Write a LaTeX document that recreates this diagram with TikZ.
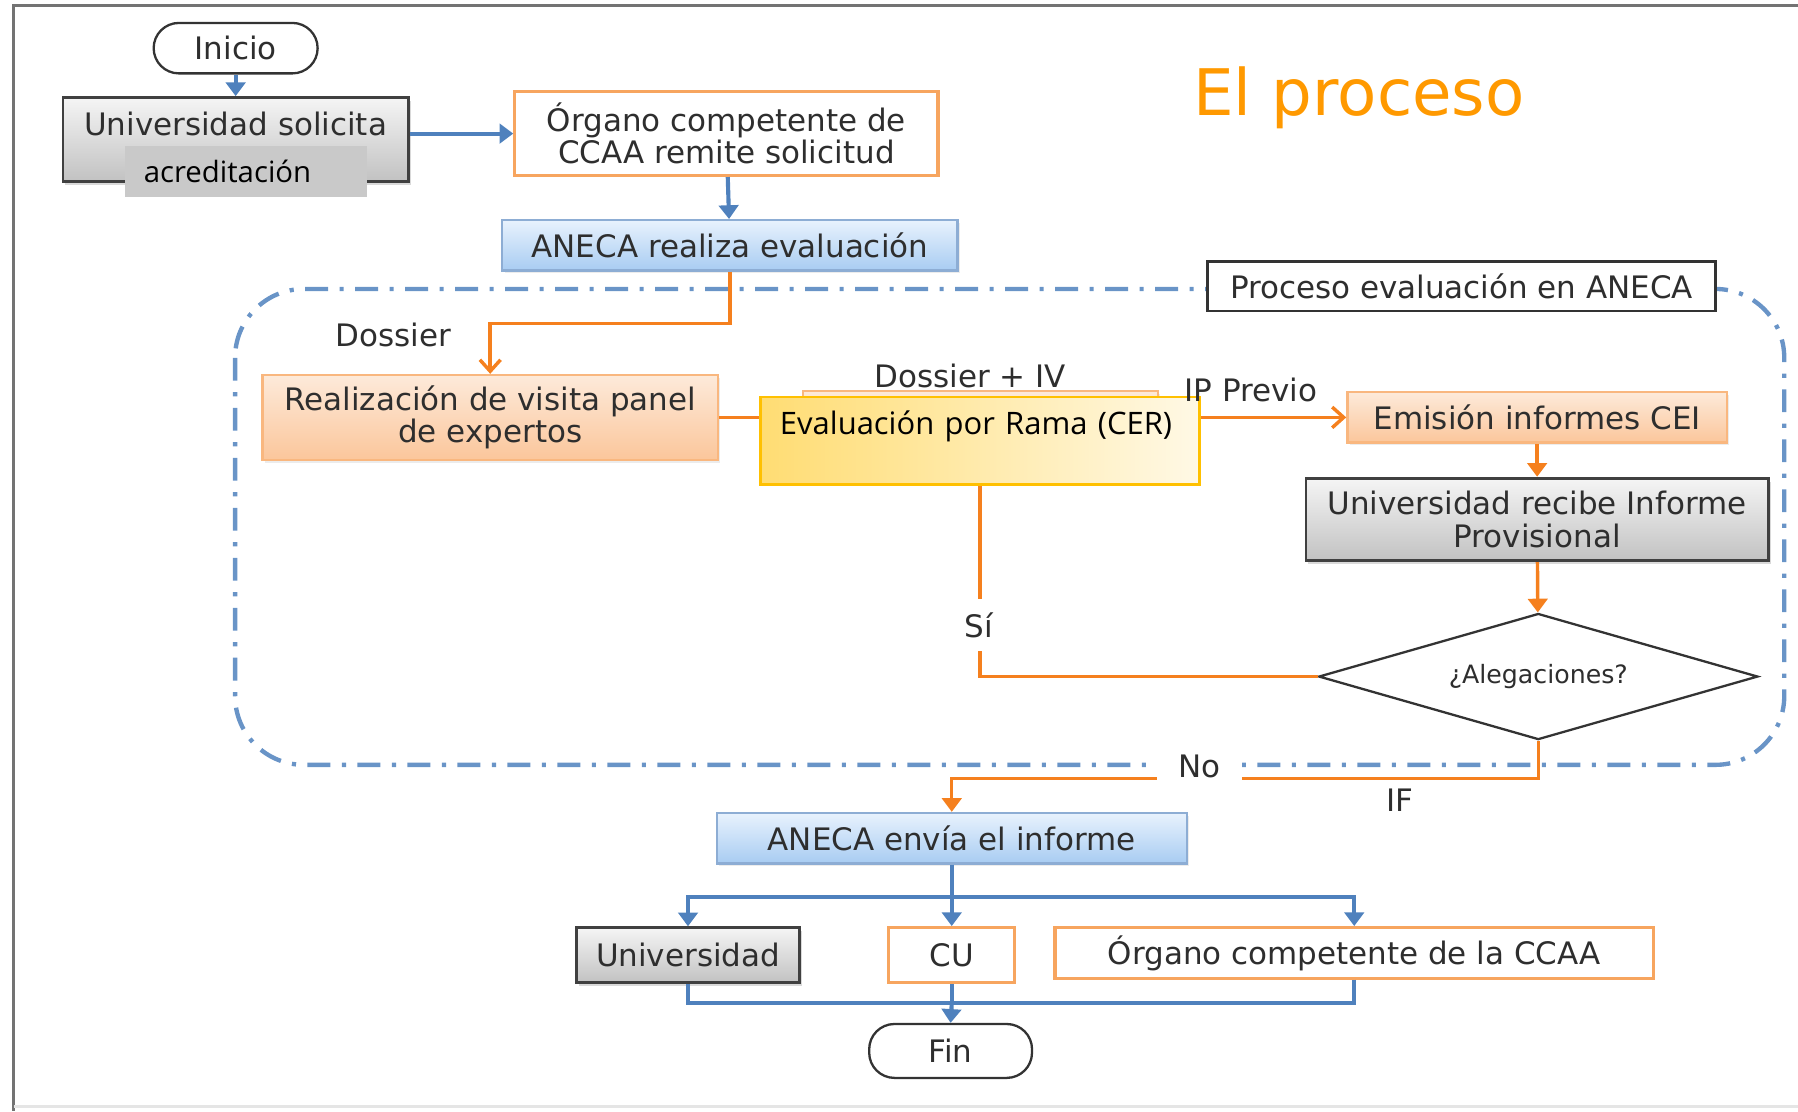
\documentclass[tikz,border=0pt]{standalone}
\usepackage{fontspec}
\setmainfont{DejaVu Sans}
\newfontfamily\osans{Open Sans}
\usetikzlibrary{arrows.meta,shapes.geometric,shadows}
\definecolor{anecaBlue}{RGB}{79,129,189}
\definecolor{lineOrange}{RGB}{245,128,30}
\definecolor{boxOrange}{RGB}{247,165,95}
\definecolor{titleOrange}{RGB}{255,153,0}
\definecolor{cerYellow}{RGB}{255,192,0}
\definecolor{peachTop}{RGB}{253,234,218}
\definecolor{peachBot}{RGB}{251,198,155}
\definecolor{blueTop}{RGB}{232,242,253}
\definecolor{blueBot}{RGB}{168,204,242}
\newcommand{\txt}{\fontsize{13.5}{14}\selectfont}

\begin{document}
\begin{tikzpicture}[x=0.5pt,y=-0.5pt,
        every node/.style={text=black!82, font=\txt},
        box/.style={draw, rectangle, inner sep=0pt, align=center},
        greybox/.style={box, draw=black!75, line width=1.2pt, top color=black!4, bottom color=black!24,
            drop shadow={opacity=0.3, shadow xshift=1pt, shadow yshift=-1.5pt}},
        orangebox/.style={box, draw=boxOrange, line width=1.4pt, fill=white},
        peachbox/.style={box, draw=boxOrange!80, line width=1pt, top color=peachTop, bottom color=peachBot,
            drop shadow={opacity=0.15, shadow xshift=1pt, shadow yshift=-1.2pt}},
        bluebox/.style={box, draw=anecaBlue!65, line width=1pt, top color=blueTop, bottom color=blueBot,
            drop shadow={opacity=0.15, shadow xshift=1pt, shadow yshift=-1.2pt}},
        pill/.style={box, draw=black!80, line width=1pt, fill=white, rounded corners=11pt},
        blueline/.style={draw=anecaBlue, line width=1.8pt},
        orline/.style={draw=lineOrange, line width=1.5pt},
        arr/.style={-{Triangle[length=6pt,width=8.5pt]}},
        varr/.style={-{Straight Barb[length=5pt,width=9pt]}},
    ]
        \useasboundingbox (0,0) rectangle (1568,969);

        % frame
        \draw[black!55, line width=1.2pt] (1568,5) -- (12,5) -- (12,969);
        \draw[black!10, line width=1pt] (12,965) -- (1568,965);

        \node[text=titleOrange, font=\fontsize{28}{30}\selectfont] (titulo) at (1185,85) {El proceso};

        % region ANECA
        \draw[anecaBlue!85, line width=1.9pt, dash pattern=on 10pt off 5pt on 1.8pt off 5pt,
            rounded corners=30pt] (205,252) rectangle (1556,667);
        \node[box, draw=black!80, line width=1pt, fill=white, minimum width=221.5pt, minimum height=21.5pt]
            (aneca proc) at (1274.5,249.5) {Proceso evaluación en ANECA};

        % nodes
        \node[pill, minimum width=71.5pt, minimum height=22pt] (inicio) at (205.5,42) {Inicio};
        \node[greybox, minimum width=150.5pt, text height=16.5pt, text depth=20pt]
            (univ) at (205.5,121.5) {Universidad solicita};
        \node[fill=black!21, anchor=west, inner xsep=8pt, inner ysep=0pt, text width=89.5pt,
            minimum height=22.5pt, align=left, text=black, font=\osans\fontsize{12.8}{14}\selectfont]
            (acred) at (109,149.5) {acreditación};
        \node[orangebox, minimum width=184.5pt, minimum height=36.5pt]
            (organo) at (633.5,116.5) {Órgano competente de\\CCAA remite solicitud};
        \node[bluebox, minimum width=198.5pt, minimum height=22pt]
            (aneca) at (636.5,214) {ANECA realiza evaluación};
        \node[peachbox, minimum width=198.5pt, minimum height=37pt]
            (visita) at (427.5,364) {Realización de visita panel\\de expertos};
        \draw[peachbox] (700,341) rectangle (1010,400);
        \node[box, draw=cerYellow, line width=1.2pt, left color=cerYellow!55!white, right color=cerYellow!10!white,
            anchor=north west, inner xsep=8.5pt, inner ysep=0pt, text width=174.5pt, align=left,
            text height=16.5pt, text depth=21.5pt, text=black, font=\osans\fontsize{13.5}{14}\selectfont]
            (cer) at (662,345) {Evaluación por Rama (CER)};
        \node[peachbox, minimum width=165.5pt, minimum height=22pt]
            (emision) at (1340.5,364) {Emisión informes CEI};
        \node[greybox, minimum width=201.5pt, minimum height=36pt]
            (recibe) at (1340.5,453) {Universidad recibe Informe\\Provisional};
        \node[diamond, draw=black!80, line width=1pt, fill=white, aspect=3.5, inner sep=0pt,
            minimum width=191.5pt, minimum height=55pt, font=\fontsize{11}{12}\selectfont]
            (alegaciones) at (1341.5,590) {¿Alegaciones?};
        \node[bluebox, minimum width=205pt, minimum height=22pt]
            (envia) at (830,731) {ANECA envía el informe};
        \node[greybox, minimum width=97pt, minimum height=24pt] (univ fin) at (600,833) {Universidad};
        \node[orangebox, minimum width=55pt, minimum height=24pt] (cu) at (830,833) {CU};
        \node[orangebox, minimum width=261pt, minimum height=22pt]
            (organo fin) at (1181,831) {Órgano competente de la CCAA};
        \node[pill, minimum width=71pt, minimum height=23.5pt] (fin) at (829,916.5) {Fin};

        % connectors
        \draw[blueline, arr] (inicio) -- (univ);
        \draw[blueline, arr] (univ.east |- organo.west) -- (organo.west);
        \draw[blueline, arr] (organo) -- (aneca);
        \draw[orline, varr] (aneca.south) -- ++(0,45) -| (visita.north);
        \node (dossier) at (343,292) {Dossier};
        \node (dossier iv) at (846,328) {Dossier + IV};
        \draw[orline] (visita.east) -- (visita.east -| cer.west);
        \draw[orline, varr] (cer.east |- emision.west) -- (emision.west);
        \node (ip) at (1091,340) {IP Previo};
        \draw[orline, arr] (emision) -- (recibe);
        \draw[orline, arr] (recibe) -- (alegaciones);
        \draw[orline] (alegaciones.west) -| (cer.south);
        \node[fill=white, inner xsep=2pt, inner ysep=6pt] (si) at (853.5,545) {Sí};
        \draw[orline, arr] (alegaciones.south) -- ++(0,33) -| (envia.north);
        \node (if) at (1221,698) {IF};
        \node[fill=white, inner xsep=9.5pt, inner ysep=4pt] (no) at (1046,668) {No};

        \coordinate (reparto) at (830,782);
        \draw[blueline] (envia) -- (reparto);
        \draw[blueline, arr] (reparto) -| (univ fin.north);
        \draw[blueline, arr] (reparto) -- (cu.north);
        \draw[blueline, arr] (reparto) -| (organo fin.north);

        \coordinate (union) at (830,875);
        \draw[blueline] (univ fin.south) |- (union);
        \draw[blueline] (organo fin.south) |- (union);
        \draw[blueline] (cu.south) -- (union);
        \draw[blueline, arr] (union) -- (fin.north);
    \end{tikzpicture}
\end{document}
